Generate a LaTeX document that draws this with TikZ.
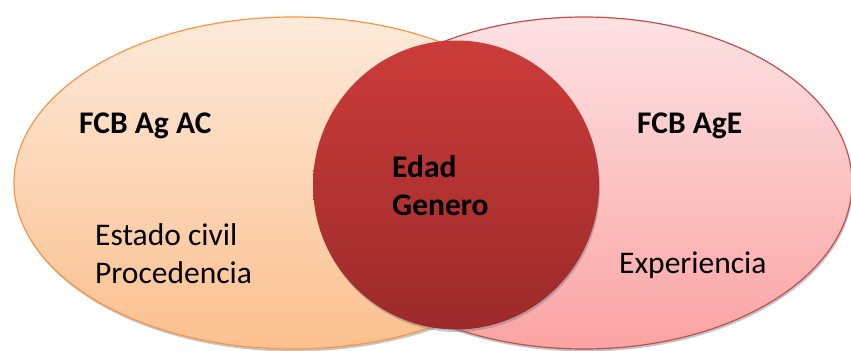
\documentclass[tikz,border=0pt]{standalone}
\usepackage{fontspec}
\setmainfont{Carlito}
\usetikzlibrary{shapes.geometric,shadows}
\definecolor{ltop}{HTML}{FDEADA}
\definecolor{lbot}{HTML}{FCC08E}
\definecolor{lborder}{HTML}{F79646}
\definecolor{rtop}{HTML}{FDE2E4}
\definecolor{rbot}{HTML}{FBA3A3}
\definecolor{rborder}{HTML}{C0504D}
\definecolor{ctop}{HTML}{CB3C3A}
\definecolor{cbot}{HTML}{9C2A2A}
\begin{document}
\begin{tikzpicture}[x=1bp,y=1bp,
  setshape/.style={ellipse, inner sep=0pt, line width=1.2bp,
    drop shadow={shadow xshift=1bp, shadow yshift=-2.5bp, opacity=0.45}},
  lbl/.style={inner sep=0pt, anchor=base west, font=\fontsize{31.5bp}{38bp}\selectfont},
  blbl/.style={lbl, font=\fontsize{31.5bp}{38bp}\selectfont\bfseries}]
\useasboundingbox (0,0) rectangle (851,350);
\clip (0,0) rectangle (851,350);
\node[setshape, draw=lborder, top color=ltop, bottom color=lbot,
  minimum width=558bp, minimum height=332bp] (A) at (293,167) {};
\node[setshape, draw=rborder, top color=rtop, bottom color=rbot,
  minimum width=536bp, minimum height=332bp] (B) at (584,167) {};
\node[setshape, top color=ctop, bottom color=cbot,
  minimum width=286bp, minimum height=289bp] (C) at (456,165) {};
\node[blbl] (la) at (79,217) {FCB Ag AC};
\node[blbl] (lb) at (637,217) {FCB AgE};
\node[blbl] (c1) at (392,173) {Edad};
\node[blbl] (c2) at (392,135) {Genero};
\node[lbl] (a1) at (95,105) {Estado civil};
\node[lbl] (a2) at (95,67) {Procedencia};
\node[lbl] (b1) at (619,77) {Experiencia};
\end{tikzpicture}
\end{document}
